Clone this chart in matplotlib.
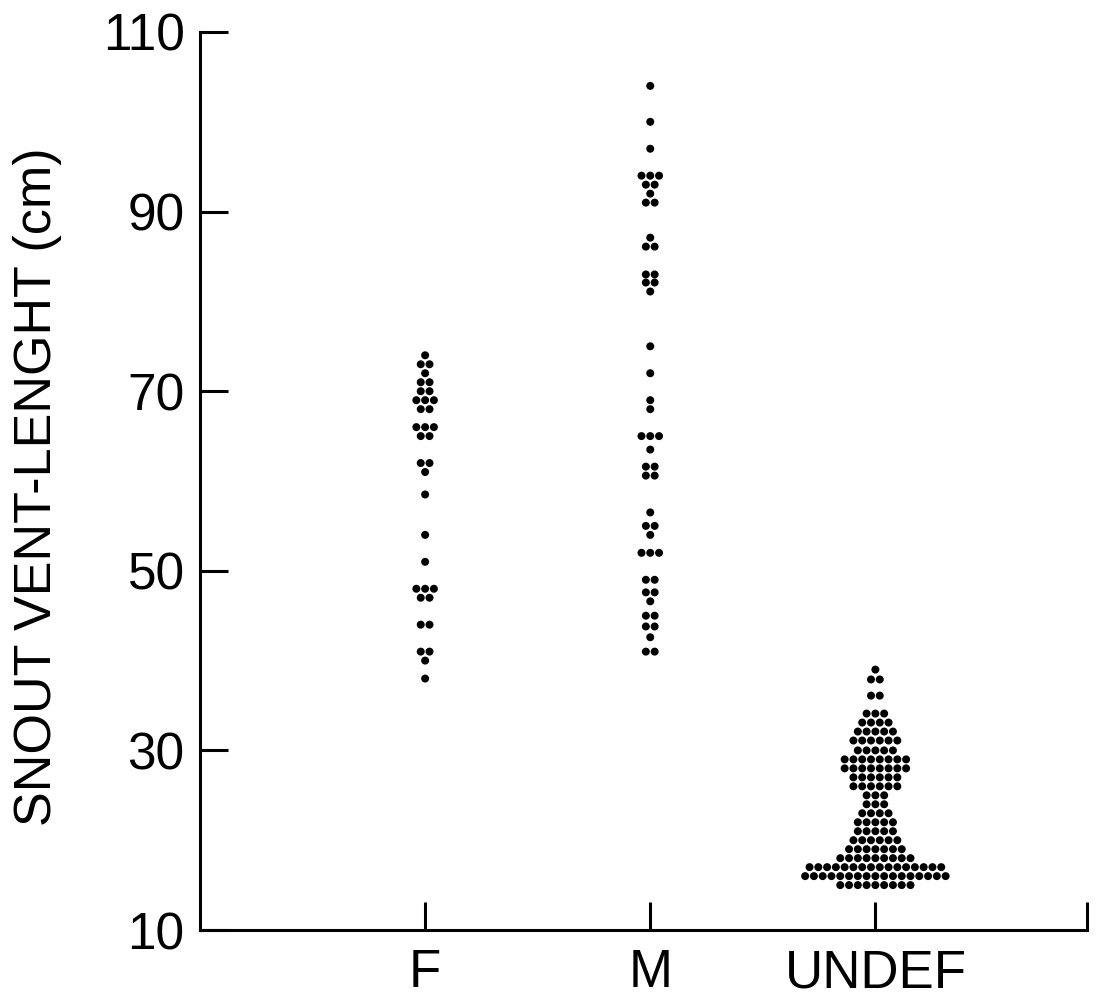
import numpy as np
import matplotlib
matplotlib.use("Agg")
import matplotlib.pyplot as plt

plt.rcParams['font.family'] = ['Liberation Sans', 'DejaVu Sans']

# ---- data ----
categories = ["F", "M", "UNDEF"]

female_svl = [74, 73, 73, 72, 71, 71, 70, 70, 69, 69, 69, 68, 68, 66, 66, 66,
              65, 65, 62, 62, 61, 58.5, 54, 51, 48, 48, 48, 47, 47, 44, 44,
              41, 41, 40, 38]

male_svl = [104, 100, 97, 94, 94, 94, 93, 93, 92, 91, 91, 87.1, 86.1, 86.1,
            83, 83, 82.1, 82.1, 81.1, 75, 72, 69, 68, 65, 65, 65, 63.5,
            61.6, 61.6, 60.6, 60.6, 56.5, 55, 55, 54, 52, 52, 52, 49, 49,
            47.6, 47.6, 46.6, 45, 45, 43.8, 43.8, 42.6, 41, 41]

undef_values = [39, 37.9, 36.1, 34.1, 33.1, 32.1, 31.1, 30, 29, 28, 27, 26,
                25, 24, 23, 22, 21, 20, 19, 18, 17, 16, 15]
undef_counts = [1, 2, 2, 3, 4, 5, 6, 5, 8, 8, 6, 6,
                3, 3, 4, 5, 5, 6, 7, 9, 16, 17, 9]
undef_svl = np.repeat(undef_values, undef_counts)

groups = [female_svl, male_svl, undef_svl]


def swarm_positions(values, center, step=0.039):
    # stack equal values side by side, centred on the category
    xs, ys = [], []
    vals, counts = np.unique(np.round(values, 2), return_counts=True)
    for v, n in zip(vals, counts):
        for i in range(n):
            xs.append(center + (i - (n - 1) / 2) * step)
            ys.append(v)
    return xs, ys


fig = plt.figure(figsize=(11.07, 9.97), dpi=100)
ax = fig.add_axes([200 / 1107, 1 - 930 / 997, 887 / 1107, 898 / 997])

for k, vals in enumerate(groups):
    xs, ys = swarm_positions(vals, k + 1)
    ax.scatter(xs, ys, s=33, color='black', edgecolors='none', zorder=3)

ax.set_xlim(0, 3.94)
ax.set_ylim(10, 110)
ax.set_yticks([10, 30, 50, 70, 90, 110])
ax.set_xticks([1, 2, 3, 3.94])
ax.set_xticklabels(categories + [""])

for side in ['top', 'right']:
    ax.spines[side].set_visible(False)
for side in ['left', 'bottom']:
    ax.spines[side].set_linewidth(2.2)

ax.tick_params(direction='in', length=20, width=2.2, labelsize=37, pad=11)
ax.tick_params(axis='x', labelsize=38, pad=13)

ax.set_ylabel("SNOUT VENT-LENGHT (cm)", fontsize=37.5)
ax.yaxis.set_label_coords(-0.156, 0.494)

fig.savefig("out.png", dpi=100)
